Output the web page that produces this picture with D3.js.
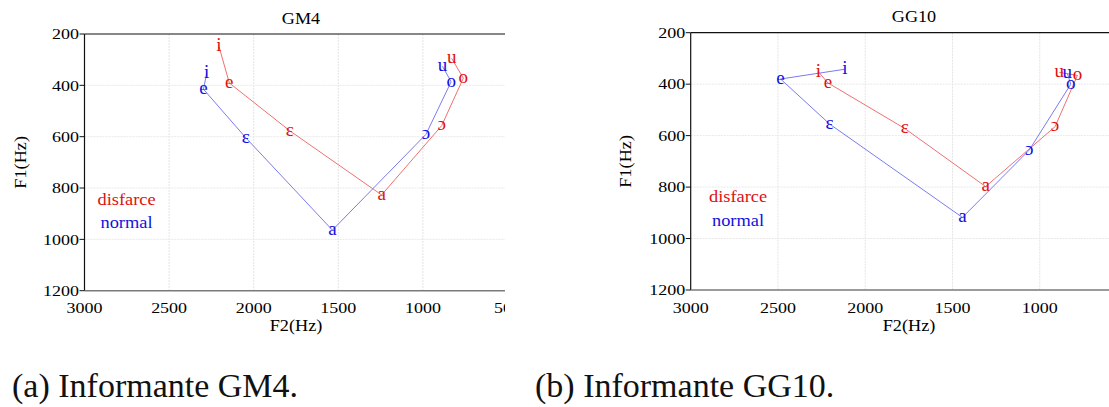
<!DOCTYPE html>
<html>
<head>
<meta charset="utf-8">
<script src="https://cdn.jsdelivr.net/npm/d3@7"></script>
<style>
  html, body { margin: 0; padding: 0; background: #fff; }
  svg { display: block; }
  text { font-family: "Liberation Serif", "Times New Roman", serif; }
</style>
</head>
<body>
<svg id="chart" width="1109" height="407"></svg>
<script>
// ---- data ----
const vowels = ["i", "e", "ɛ", "a", "ɔ", "o", "u"];

const gm4DisfarceF2 = [2205, 2144, 1787, 1244, 889, 761, 830];
const gm4DisfarceF1 = [249, 391, 577, 827, 557, 372, 295];
const gm4NormalF2   = [2278, 2297, 2047, 1535, 982, 833, 884];
const gm4NormalF1   = [354, 415, 604, 964, 591, 386, 326];

const gg10DisfarceF2 = [2268, 2214, 1774, 1310, 912, 784, 888];
const gg10DisfarceF1 = [352, 395, 572, 798, 565, 366, 354];
const gg10NormalF2   = [2117, 2485, 2204, 1443, 1060, 822, 842];
const gg10NormalF1   = [342, 380, 555, 918, 656, 400, 358];

const xTicks = [3000, 2500, 2000, 1500, 1000, 500];
const yTicks = [200, 400, 600, 800, 1000, 1200];
const seriesNames = ["disfarce", "normal"];
const panelTitles = ["GM4", "GG10"];
const captions = ["(a) Informante GM4.", "(b) Informante GG10."];

// ---- styles ----
const textColor = { disfarce: "#e01010", normal: "#1010e0" };
const lineColor = { disfarce: "#f07070", normal: "#7b7bf0" };

// ---- layout ----
const panels = [
  { title: panelTitles[0], caption: captions[0],
    x0: 84.5, x1: 507.5, clipR: 505, yTop: 34, yBot: 290.7,
    legendX: 126.5, legendY: [204.5, 228], titleX: 301, titleY: 23.5,
    xTitleX: 296, yTitleX: 25.5, capX: 12,
    series: [
      { name: seriesNames[0], f2: gm4DisfarceF2, f1: gm4DisfarceF1 },
      { name: seriesNames[1], f2: gm4NormalF2, f1: gm4NormalF1 } ] },
  { title: panelTitles[1], caption: captions[1],
    x0: 690.7, x1: 1127, clipR: 1109, yTop: 32.7, yBot: 290,
    legendX: 738, legendY: [201.5, 225.5], titleX: 914, titleY: 22,
    xTitleX: 909, yTitleX: 631, capX: 535,
    series: [
      { name: seriesNames[0], f2: gg10DisfarceF2, f1: gg10DisfarceF1 },
      { name: seriesNames[1], f2: gg10NormalF2, f1: gg10NormalF1 } ] }
];

const svg = d3.select("#chart");

function stretchedText(g, x, y, str, size, sx, anchor, fill, rotate) {
  return g.append("text")
    .attr("transform", `translate(${x},${y})` + (rotate ? ` rotate(${rotate})` : "") + ` scale(${sx},1)`)
    .attr("text-anchor", anchor)
    .attr("font-size", size)
    .attr("fill", fill)
    .text(str);
}

panels.forEach((p, pi) => {
  const x = d3.scaleLinear().domain([3000, 500]).range([p.x0, p.x1]);
  const y = d3.scaleLinear().domain([200, 1200]).range([p.yTop, p.yBot]);

  const clipId = "clip" + pi;
  svg.append("clipPath").attr("id", clipId)
    .append("rect").attr("x", 0).attr("y", 0)
    .attr("width", p.clipR).attr("height", 407);

  const g = svg.append("g").attr("clip-path", `url(#${clipId})`);

  // gridlines
  g.append("g").selectAll("line").data(xTicks.slice(1)).join("line")
    .attr("x1", d => x(d)).attr("x2", d => x(d))
    .attr("y1", p.yTop).attr("y2", p.yBot)
    .attr("stroke", "#e4e4e4").attr("stroke-width", 1)
    .attr("stroke-dasharray", "2,1");
  g.append("g").selectAll("line").data(yTicks.slice(1, -1)).join("line")
    .attr("x1", p.x0).attr("x2", p.x1)
    .attr("y1", d => y(d)).attr("y2", d => y(d))
    .attr("stroke", "#e8e8e8").attr("stroke-width", 1)
    .attr("stroke-dasharray", "2,1");

  // frame: top line, left axis, bottom axis
  g.append("line").attr("x1", p.x0).attr("x2", p.x1)
    .attr("y1", y(200)).attr("y2", y(200))
    .attr("stroke", "#111").attr("stroke-width", 1.2);
  g.append("line").attr("x1", p.x0).attr("x2", p.x0)
    .attr("y1", p.yTop).attr("y2", p.yBot)
    .attr("stroke", "#111").attr("stroke-width", 1.2);
  g.append("line").attr("x1", p.x0).attr("x2", p.x1)
    .attr("y1", y(1200)).attr("y2", y(1200))
    .attr("stroke", "#7a7a7a").attr("stroke-width", 1.4);

  // y ticks and labels
  yTicks.forEach(t => {
    g.append("line").attr("x1", p.x0 - 5).attr("x2", p.x0)
      .attr("y1", y(t)).attr("y2", y(t))
      .attr("stroke", "#111").attr("stroke-width", 1);
    stretchedText(g, p.x0 - 5.5, y(t) + 5.2, String(t), 15.5, 1.16, "end", "#000");
  });
  // x tick labels (only those whose start is inside the visible area)
  xTicks.filter(t => x(t) - 14 < p.clipR).forEach(t => {
    stretchedText(g, x(t), p.yBot + 22.5, String(t), 15.5, 1.16, "middle", "#000");
  });

  // axis titles and panel title
  stretchedText(g, p.xTitleX, 331, "F2(Hz)", 16, 1.14, "middle", "#000");
  stretchedText(g, p.yTitleX, (p.yTop + p.yBot) / 2, "F1(Hz)", 16, 1.14, "middle", "#000", -90);
  stretchedText(g, p.titleX, p.titleY, p.title, 16.5, 1.1, "middle", "#000");

  // series lines
  const line = d3.line().x(d => x(d.f2)).y(d => y(d.f1));
  p.series.forEach(s => {
    const pts = vowels.map((v, i) => ({ v, f2: s.f2[i], f1: s.f1[i] }));
    g.append("path").datum(pts)
      .attr("d", line)
      .attr("fill", "none")
      .attr("stroke", lineColor[s.name])
      .attr("stroke-width", 1);
  });
  // vowel labels
  p.series.forEach(s => {
    vowels.forEach((v, i) => {
      stretchedText(g, x(s.f2[i]), y(s.f1[i]) + 4.8, v, 18, 1.06, "middle", textColor[s.name]);
    });
  });

  // legend
  p.series.forEach((s, i) => {
    stretchedText(g, p.legendX, p.legendY[i], s.name, 17.5, 1.05, "middle", textColor[s.name]);
  });

  // caption
  svg.append("text").attr("x", p.capX).attr("y", 396.7)
    .attr("font-size", 34).attr("fill", "#111")
    .text(p.caption);
});
</script>
</body>
</html>
